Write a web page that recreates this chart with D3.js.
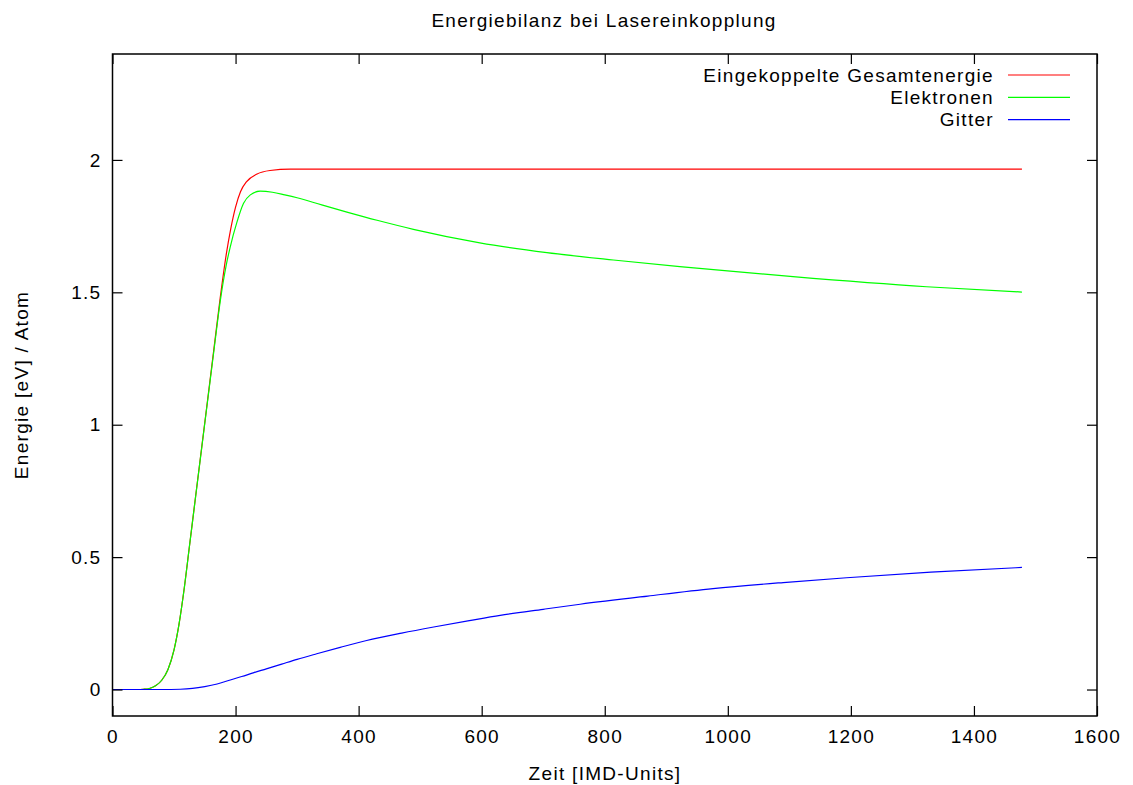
<!DOCTYPE html>
<html>
<head>
<meta charset="utf-8">
<script src="https://cdn.jsdelivr.net/npm/d3@7"></script>
<style>
  html, body { margin: 0; padding: 0; background: #fff; }
  svg { display: block; }
  text { font-family: "Liberation Sans", Arial, Helvetica, sans-serif; fill: #000; letter-spacing: 1.3px; }
</style>
</head>
<body>
<svg id="chart" width="1133" height="785"></svg>
<script>
// Time samples (IMD units) and energies (eV / atom) for each curve
const timeTotal = [0, 40, 50, 60, 70, 80, 90, 100, 108, 116, 125, 135, 145, 155, 165, 175, 185, 192, 200, 208, 218, 235, 256, 289, 400, 800, 1200, 1478];
const totalEnergy = [0, 0, 0.001, 0.004, 0.014, 0.035, 0.075, 0.150, 0.245, 0.372, 0.540, 0.728, 0.915, 1.102, 1.29, 1.478, 1.645, 1.738, 1.822, 1.88, 1.918, 1.947, 1.960, 1.965, 1.965, 1.965, 1.965, 1.965];

const timeElectrons = [0, 40, 50, 60, 70, 80, 90, 100, 108, 116, 125, 135, 145, 155, 165, 175, 185, 191, 202, 213, 224, 240, 260, 280, 300, 340, 381, 430, 489, 597, 706, 814, 922, 1106, 1323, 1478];
const electronEnergy = [0, 0, 0.001, 0.004, 0.014, 0.035, 0.075, 0.150, 0.245, 0.372, 0.540, 0.727, 0.913, 1.098, 1.283, 1.465, 1.605, 1.668, 1.763, 1.836, 1.868, 1.882, 1.878, 1.868, 1.857, 1.830, 1.803, 1.772, 1.738, 1.687, 1.650, 1.622, 1.597, 1.559, 1.521, 1.501];

const timeLattice = [0, 80, 110, 130, 150, 170, 190, 210, 230, 250, 275, 300, 332, 370, 413, 470, 522, 580, 630, 700, 760, 870, 976, 1090, 1193, 1330, 1478];
const latticeEnergy = [0, 0, 0.001, 0.004, 0.011, 0.021, 0.035, 0.049, 0.064, 0.078, 0.096, 0.114, 0.135, 0.159, 0.185, 0.213, 0.236, 0.260, 0.280, 0.303, 0.322, 0.353, 0.381, 0.404, 0.422, 0.443, 0.461];

const xTicks = [0, 200, 400, 600, 800, 1000, 1200, 1400, 1600];
const yTicks = [0, 0.5, 1, 1.5, 2];
const yTickLabels = ["0", "0.5", "1", "1.5", "2"];

const seriesNames = ["Eingekoppelte Gesamtenergie", "Elektronen", "Gitter"];
const seriesColors = ["#ff0000", "#00ff00", "#0000ff"];

const series = [
  { name: seriesNames[0], color: seriesColors[0], t: timeTotal, v: totalEnergy },
  { name: seriesNames[1], color: seriesColors[1], t: timeElectrons, v: electronEnergy },
  { name: seriesNames[2], color: seriesColors[2], t: timeLattice, v: latticeEnergy }
];

const svg = d3.select("#chart");
const plot = { left: 112.5, right: 1097, top: 54, bottom: 716 };
const fontSize = 19;

const x = d3.scaleLinear().domain([0, 1600]).range([plot.left, plot.right]);
const y = d3.scaleLinear().domain([-0.1, 2.4]).range([plot.bottom, plot.top]);

// Title
svg.append("text")
  .attr("x", 604).attr("y", 27)
  .attr("text-anchor", "middle")
  .attr("font-size", fontSize)
  .text("Energiebilanz bei Lasereinkopplung");

// Curves (clipped to the frame)
svg.append("clipPath").attr("id", "clip")
  .append("rect")
  .attr("x", plot.left).attr("y", plot.top)
  .attr("width", plot.right - plot.left).attr("height", plot.bottom - plot.top);

const line = d3.line()
  .x(d => x(d[0]))
  .y(d => y(d[1]))
  .curve(d3.curveMonotoneX);

// drawn in series order: total, electrons, lattice (later ones on top)
const curves = svg.append("g").attr("clip-path", "url(#clip)");
series.forEach(s => {
  curves.append("path")
    .datum(s.t.map((t, i) => [t, s.v[i]]))
    .attr("fill", "none")
    .attr("stroke", s.color)
    .attr("stroke-width", 1.2)
    .attr("d", line);
});

// Axes with inward ticks on all four sides
const tickLen = 10;
const axisBottom = d3.axisBottom(x).tickValues(xTicks).tickSize(-tickLen).tickPadding(14).tickFormat(d3.format("d"));
const axisTop = d3.axisTop(x).tickValues(xTicks).tickSize(-tickLen).tickFormat("");
const axisLeft = d3.axisLeft(y).tickValues(yTicks).tickSize(-tickLen).tickPadding(11)
  .tickFormat((d, i) => yTickLabels[i]);
const axisRight = d3.axisRight(y).tickValues(yTicks).tickSize(-tickLen).tickFormat("");

function styleAxis(g) {
  g.select(".domain").remove();
  g.selectAll(".tick line").attr("stroke", "#000").attr("stroke-width", 1.2);
  g.selectAll(".tick text")
    .attr("font-size", fontSize)
    .attr("font-family", "Liberation Sans, Arial, sans-serif")
    .attr("fill", "#000");
}

svg.append("g").attr("transform", `translate(0,${plot.bottom})`).call(axisBottom).call(styleAxis);
svg.append("g").attr("transform", `translate(0,${plot.top})`).call(axisTop).call(styleAxis);
svg.append("g").attr("transform", `translate(${plot.left},0)`).call(axisLeft).call(styleAxis);
svg.append("g").attr("transform", `translate(${plot.right},0)`).call(axisRight).call(styleAxis);

// Frame
svg.append("rect")
  .attr("x", plot.left).attr("y", plot.top)
  .attr("width", plot.right - plot.left).attr("height", plot.bottom - plot.top)
  .attr("fill", "none").attr("stroke", "#000").attr("stroke-width", 1.5);

// Axis titles
svg.append("text")
  .attr("x", 605).attr("y", 780)
  .attr("text-anchor", "middle")
  .attr("font-size", fontSize)
  .text("Zeit [IMD-Units]");

svg.append("text")
  .attr("transform", "translate(28,385) rotate(-90)")
  .attr("text-anchor", "middle")
  .attr("font-size", fontSize)
  .text("Energie [eV] / Atom");

// Legend
const legend = svg.append("g");
series.forEach((s, i) => {
  const yy = 75 + i * 22.3;
  legend.append("text")
    .attr("x", 994).attr("y", yy)
    .attr("dy", "0.35em")
    .attr("text-anchor", "end")
    .attr("font-size", fontSize)
    .text(s.name);
  legend.append("line")
    .attr("x1", 1008).attr("x2", 1070)
    .attr("y1", yy).attr("y2", yy)
    .attr("stroke", s.color).attr("stroke-width", 1.2);
});
</script>
</body>
</html>
